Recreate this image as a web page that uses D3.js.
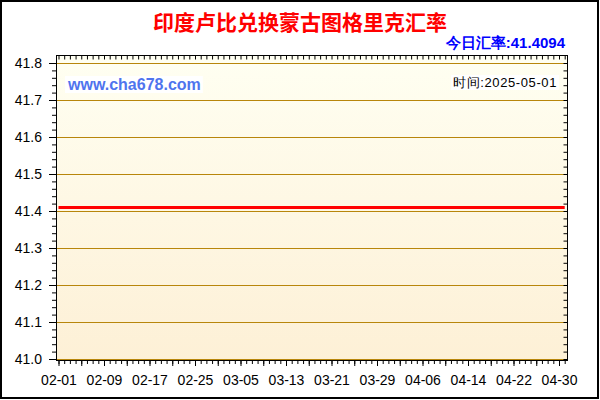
<!DOCTYPE html>
<html>
<head>
<meta charset="utf-8">
<script src="https://cdn.jsdelivr.net/npm/d3@7"></script>
<style>
  body { margin: 0; background: #fff; }
  svg { display: block; }
</style>
</head>
<body>
<div id="chart"></div>
<script>
// Chart data
const title = "印度卢比兑换蒙古图格里克汇率";
const todayRate = "今日汇率:41.4094";
const siteName = "www.cha678.com";
const timeLabel = "时间:2025-05-01";

const dates = ["2025-02-01", "2025-05-01"];
const rates = [41.4094, 41.4094];

const xLabels = ["02-01", "02-09", "02-17", "02-25", "03-05", "03-13",
                 "03-21", "03-29", "04-06", "04-14", "04-22", "04-30"];
const yTicks = [41.0, 41.1, 41.2, 41.3, 41.4, 41.5, 41.6, 41.7, 41.8];

const width = 600;
const height = 400;
const plot = { left: 56, top: 55, right: 568, bottom: 360 };

const parse = d3.timeParse("%Y-%m-%d");
const points = dates.map((d, i) => ({ date: parse(d), rate: rates[i] }));

const svg = d3.select("#chart").append("svg")
  .attr("width", width)
  .attr("height", height)
  .style("font-family", "'Liberation Sans', Arial, sans-serif");

// outer frame
svg.append("rect")
  .attr("x", 1).attr("y", 1)
  .attr("width", 597).attr("height", 397)
  .attr("fill", "#fff")
  .attr("stroke", "#000")
  .attr("stroke-width", 2);

const x = d3.scaleTime()
  .domain(d3.extent(points, d => d.date))
  .range([58.5, 564.7]);

const y = d3.scaleLinear()
  .domain([41.0, 41.8])
  .range([359, 63]);

// plot background gradient
const grad = svg.append("defs").append("linearGradient")
  .attr("id", "bg")
  .attr("x1", 0).attr("y1", 0).attr("x2", 0).attr("y2", 1);
grad.append("stop").attr("offset", "0%").attr("stop-color", "#fffff2");
grad.append("stop").attr("offset", "100%").attr("stop-color", "#fdf0d6");

svg.append("rect")
  .attr("x", plot.left).attr("y", plot.top)
  .attr("width", plot.right - plot.left)
  .attr("height", plot.bottom - plot.top)
  .attr("fill", "url(#bg)");

// grid lines
svg.append("g")
  .selectAll("line")
  .data(yTicks)
  .join("line")
  .attr("x1", plot.left).attr("x2", plot.right)
  .attr("y1", d => Math.round(y(d)) + 0.5)
  .attr("y2", d => Math.round(y(d)) + 0.5)
  .attr("stroke", "#b8860b")
  .attr("stroke-width", 1);

// text boxes in the plot
function boxedText(tx, ty, txt, anchor, size, weight, color, spacing) {
  const g = svg.append("g");
  const t = g.append("text")
    .attr("x", tx).attr("y", ty)
    .attr("text-anchor", anchor)
    .attr("font-size", size)
    .attr("font-weight", weight)
    .attr("letter-spacing", spacing)
    .attr("fill", color)
    .text(txt);
  const b = t.node().getBBox();
  g.insert("rect", "text")
    .attr("x", b.x - 2).attr("y", b.y)
    .attr("width", b.width + 4).attr("height", b.height)
    .attr("fill", "#fff");
}

boxedText(68, 90, siteName, "start", 16, "bold", "#4f74ee", 0);
boxedText(557, 87, timeLabel, "end", 13, "normal", "#000", 0.6);

// rate line
const line = d3.line()
  .x(d => x(d.date))
  .y(d => y(d.rate));

svg.append("path")
  .datum(points)
  .attr("d", line)
  .attr("fill", "none")
  .attr("stroke", "#ff0000")
  .attr("stroke-width", 3);

// plot frame
svg.append("rect")
  .attr("x", plot.left + 0.5).attr("y", plot.top + 0.5)
  .attr("width", plot.right - plot.left - 1)
  .attr("height", plot.bottom - plot.top)
  .attr("fill", "none")
  .attr("stroke", "#000")
  .attr("stroke-width", 1);

// axes
const fmt = d3.format(".1f");
const yMinor = d3.range(0, 41).map(i => 41.0 + i * 0.02);

svg.append("g")
  .attr("transform", `translate(${plot.left},0)`)
  .call(d3.axisLeft(y).tickValues(yMinor).tickSize(4).tickFormat(""));

svg.append("g")
  .attr("transform", `translate(${plot.left},0)`)
  .call(d3.axisLeft(y).tickValues(yTicks).tickSize(7).tickPadding(7).tickFormat(fmt))
  .call(g => g.selectAll("text").attr("font-size", 14).attr("fill", "#000"));

svg.append("g")
  .attr("transform", `translate(${plot.right - 0.5},0)`)
  .call(d3.axisLeft(y).tickValues(yMinor).tickSize(4).tickFormat(""));

const start = x.domain()[0];
const end = d3.timeDay.offset(x.domain()[1], 1);
const xDays = d3.timeDay.range(start, end);
const xMajor = d3.timeDay.range(start, parse("2025-05-01"), 4);
const labelSet = new Set(xLabels);
const md = d3.timeFormat("%m-%d");

svg.append("g")
  .attr("transform", `translate(0,${plot.bottom})`)
  .call(d3.axisBottom(x).tickValues(xDays).tickSize(4).tickFormat(""));

svg.append("g")
  .attr("transform", `translate(0,${plot.bottom})`)
  .call(d3.axisBottom(x).tickValues(xMajor).tickSize(6).tickPadding(9)
    .tickFormat(d => labelSet.has(md(d)) ? md(d) : ""))
  .call(g => g.selectAll("text").attr("font-size", 14).attr("fill", "#000"));

svg.append("g")
  .attr("transform", `translate(0,${plot.top + 0.5})`)
  .call(d3.axisBottom(x).tickValues(xDays).tickSize(4).tickFormat(""));

svg.selectAll(".domain").remove();

// titles
svg.append("text")
  .attr("x", 300).attr("y", 30)
  .attr("text-anchor", "middle")
  .attr("font-family", "'Noto Sans CJK SC', sans-serif")
  .attr("font-size", 21)
  .attr("font-weight", "bold")
  .attr("fill", "#ff0000")
  .text(title);

svg.append("text")
  .attr("x", 565).attr("y", 48)
  .attr("text-anchor", "end")
  .attr("font-size", 15)
  .attr("font-weight", "bold")
  .attr("fill", "#0000ff")
  .text(todayRate);
</script>
</body>
</html>
